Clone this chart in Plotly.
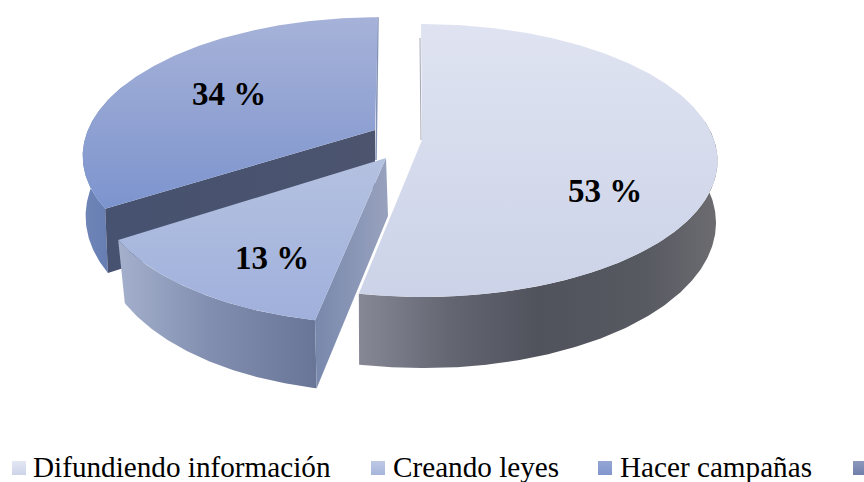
import math
import plotly.graph_objects as go

CATEGORIES = ["Difundiendo información", "Creando leyes", "Hacer campañas", ""]
VALUES = [53, 13, 34, 0]
LABEL_XY = [(605, 191), (272, 258), (229, 94)]

# style: perspective ellipse and exploded slice centres (in pixel-mapped axes)
CENTERS = [(422, 140), (386, 158), (375, 130)]
# per-slice projection: rx, ry, perspective k, lean, depth, bottom x-shrink
PROJ = [
    (292.0, 133.4, 0.15, -1.0, 60.5, 0.995),
    (287.0, 140.8, 0.15, 8.0, 58.0, 0.975),
    (287.0, 133.0, 0.18, 3.0, 58.0, 0.99),
]

# vertical gradients run bottom (0) to top (1)
TOPS = [
    [[0, "rgb(204,211,232)"], [1, "rgb(223,227,241)"]],
    [[0, "rgb(160,176,220)"], [1, "rgb(180,193,224)"]],
    [[0, "rgb(124,148,206)"], [0.4, "rgb(142,160,210)"], [1, "rgb(166,178,216)"]],
]
SIDES = [
    [[0, "rgb(134,136,150)"], [0.25, "rgb(100,102,114)"], [0.5, "rgb(80,82,92)"], [0.8, "rgb(88,90,98)"], [1, "rgb(108,108,112)"]],
    [[0, "rgb(164,176,204)"], [0.45, "rgb(130,143,176)"], [1, "rgb(104,117,150)"]],
    [[0, "rgb(112,134,184)"], [1, "rgb(96,120,176)"]],
]
CUTS = {
    1: [[0, "rgb(120,136,172)"], [1, "rgb(152,162,190)"]],
    2: [[0, "rgb(70,82,112)"], [1, "rgb(76,84,110)"]],
}
SWATCHES = [
    [[0, "rgb(205,212,233)"], [1, "rgb(228,231,243)"]],
    [[0, "rgb(166,181,220)"], [1, "rgb(190,201,228)"]],
    [[0, "rgb(128,150,206)"], [1, "rgb(150,166,212)"]],
    [[0, "rgb(112,126,170)"], [1, "rgb(142,152,190)"]],
]


def top_pt(c, p, deg):
    t = math.radians(deg)
    u, v = math.sin(t), math.cos(t)
    s = 1 / (1 + p[2] * v)
    return c[0] + p[0] * u * s + p[3] * v, c[1] - p[1] * v * s


def bot_pt(c, p, deg):
    t = math.radians(deg)
    u, v = math.sin(t), math.cos(t)
    s = 1 / (1 + p[2] * v)
    return c[0] + p[5] * p[0] * u * s + p[3] * v, c[1] - p[1] * v * s + p[4] * s


def arc(fn, c, p, a0, a1):
    n = max(2, int(abs(a1 - a0) * 2))
    return [fn(c, p, a0 + (a1 - a0) * i / n) for i in range(n + 1)]


fig = go.Figure()


def poly(pts, scale, kind):
    fig.add_trace(go.Scatter(
        x=[p[0] for p in pts] + [pts[0][0]], y=[p[1] for p in pts] + [pts[0][1]],
        mode="lines", line=dict(width=0), fill="toself", hoverinfo="skip", showlegend=False,
        fillgradient=dict(type=kind, colorscale=scale),
    ))


total = sum(VALUES)
edges = [0]
for v in VALUES[:3]:
    edges.append(edges[-1] + 360 * v / total)

SIDE_SPANS = [(82, edges[1]), (edges[1], edges[2]), (edges[2], 290)]

for i in (2, 1, 0):
    c, p = CENTERS[i], PROJ[i]
    a0, a1 = edges[i], edges[i + 1]
    s0, s1 = SIDE_SPANS[i]
    poly(arc(top_pt, c, p, s0, s1) + arc(bot_pt, c, p, s1, s0), SIDES[i], "horizontal")
    if i == 2:
        poly([top_pt(c, p, a0), c, (c[0], c[1] + p[4]), bot_pt(c, p, a0)], CUTS[2], "horizontal")
        fig.add_trace(go.Scatter(x=[top_pt(c, p, a1)[0], c[0] + 1, c[0] + 1], y=[top_pt(c, p, a1)[1], c[1], c[1] + 30],
                                 mode="lines", line=dict(width=1.5, color="rgb(130,145,180)"),
                                 hoverinfo="skip", showlegend=False))
    if i == 1:
        poly([top_pt(c, p, a0), c, (c[0] + 2, c[1] + p[4]), bot_pt(c, p, a0)], CUTS[1], "horizontal")
    if i == 0:
        fig.add_trace(go.Scatter(x=[top_pt(c, p, a0)[0] - 1, c[0] - 1], y=[top_pt(c, p, a0)[1] + 14, c[1]],
                                 mode="lines", line=dict(width=1, color="rgb(165,168,180)"),
                                 hoverinfo="skip", showlegend=False))
    poly([c] + arc(top_pt, c, p, a0, a1), TOPS[i], "vertical")

annos = []
for i in range(3):
    annos.append(dict(x=LABEL_XY[i][0], y=LABEL_XY[i][1], text=f"<b>{VALUES[i]} %</b>", showarrow=False,
                      font=dict(family="Liberation Serif", size=33, color="black")))

SWATCH_X = [12, 371, 598, 853]
TEXT_X = [31, 391, 618]
for i, sx in enumerate(SWATCH_X):
    poly([(sx, 461), (sx + 14, 461), (sx + 14, 475), (sx, 475)], SWATCHES[i], "vertical")
for i, tx in enumerate(TEXT_X):
    annos.append(dict(x=tx, y=467, height=30, xanchor="left", text=CATEGORIES[i], showarrow=False,
                      font=dict(family="Liberation Serif", size=29.2, color="black")))

fig.update_layout(
    width=864, height=482, margin=dict(l=0, r=0, t=0, b=0),
    paper_bgcolor="white", plot_bgcolor="white", showlegend=False,
    xaxis=dict(range=[0, 864], visible=False, fixedrange=True),
    yaxis=dict(range=[482, 0], visible=False, fixedrange=True),
    annotations=annos,
)
fig.write_html("out.html", config={"displayModeBar": False},
               post_script="document.body.style.margin='0';document.body.style.overflow='hidden';")
